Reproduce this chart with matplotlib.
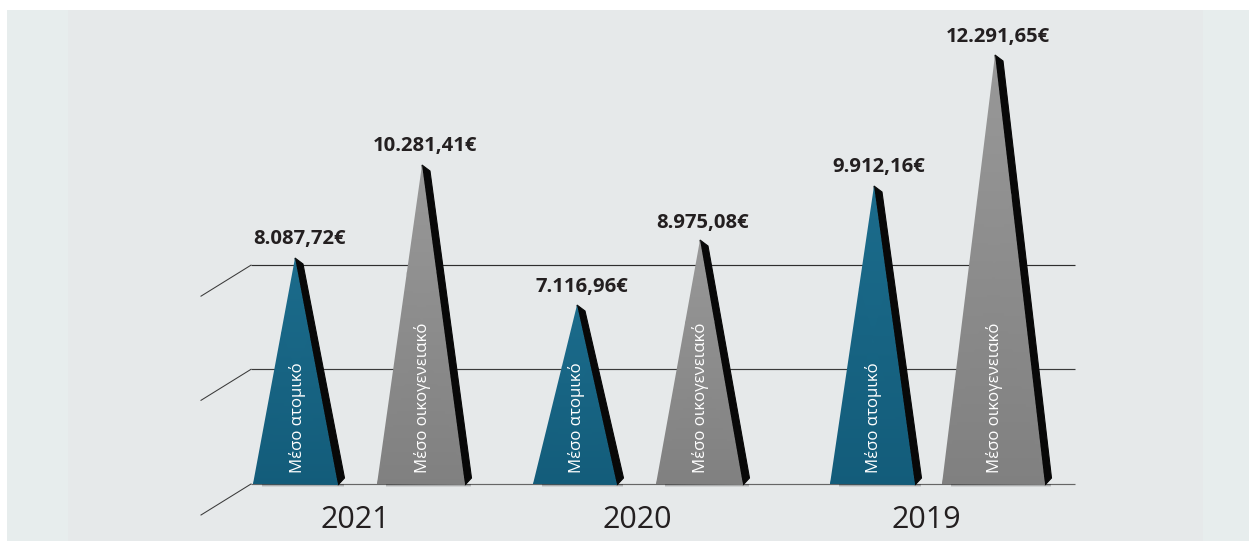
import numpy as np
import matplotlib
matplotlib.use("Agg")
import matplotlib.pyplot as plt
from matplotlib.colors import LinearSegmentedColormap
from matplotlib.patches import Polygon, Rectangle

plt.rcParams['font.family'] = ['Open Sans', 'DejaVu Sans']

years = ["2021", "2020", "2019"]
individual = [8087.72, 7116.96, 9912.16]
family = [10281.41, 8975.08, 12291.65]
value_labels_ind = ["8.087,72€", "7.116,96€", "9.912,16€"]
value_labels_fam = ["10.281,41€", "8.975,08€", "12.291,65€"]
name_ind = "Μέσο ατομικό"
name_fam = "Μέσο οικογενειακό"

# the pyramids are not to a linear scale, so the y axis gets its own breakpoints
scale_values = [-2078, 0, 7116.96, 8087.72, 8975.08, 9912.16, 10281.41, 12291.65, 14000]
scale_heights = [-58, 0, 179, 226, 244, 298, 319, 429, 484]
grid_values = [0, 4560, 7940]

# left, right, apex of each pyramid, one entry per year
ind_x = [(253, 338, 295), (533, 617, 577), (830, 915, 874)]
fam_x = [(377, 465, 422), (656, 743, 700), (942, 1045, 995)]
year_x = [355, 637, 926]

# label placement
ind_name_x = [298, 577, 874]
fam_name_x = [423, 701, 995]
ind_gap = [9, 8, 9]
fam_gap = [9, 7, 8]

WIDTH, HEIGHT = 1249, 542
BLUE = LinearSegmentedColormap.from_list("blue", ["#135c7a", "#1b6b8b"])
GREY = LinearSegmentedColormap.from_list("grey", ["#808080", "#989898"])


def to_height(v):
    return np.interp(v, scale_values, scale_heights)


def to_value(h):
    return np.interp(h, scale_heights, scale_values)


def draw_pyramid(ax, xs, value, cmap):
    left, right, apex = xs
    # soft shadow under the base
    for i, alpha in enumerate([0.45, 0.28, 0.12]):
        ax.add_patch(Polygon([(left + 9, to_value(0 - i)), (right + 6, to_value(0 - i)),
                              (right + 6, to_value(-1 - i)), (left + 9, to_value(-1 - i))],
                             closed=True, fc="#333333", ec="none", alpha=alpha, zorder=3))
    # black side
    ax.add_patch(Polygon([(apex, value), (apex + 8, to_value(to_height(value) - 6)),
                          (right + 6.5, to_value(6)), (right, to_value(-1))],
                         closed=True, fc="#080808", ec="#080808", lw=0.8, zorder=4))
    # front face with a vertical gradient
    face = Polygon([(left, 0), (right, to_value(-1)), (apex, value)], closed=True,
                   transform=ax.transData, fc="none", ec="none")
    ax.add_patch(face)
    ys = np.array([to_value(-1), value])
    mesh = ax.pcolormesh([left, right], ys, [[0, 0], [1, 1]], shading="gouraud",
                         cmap=cmap, vmin=0, vmax=1, zorder=5)
    mesh.set_clip_path(face)


fig = plt.figure(figsize=(WIDTH / 100, HEIGHT / 100), dpi=100)
fig.patch.set_facecolor("white")

# page background and the guide lines, in pixel coordinates
bg = fig.add_axes([0, 0, 1, 1], zorder=0)
bg.set_xlim(0, WIDTH)
bg.set_ylim(HEIGHT, 0)
bg.axis("off")
bg.add_patch(Rectangle((7, 10), WIDTH - 7, 531, fc="#e7eded", ec="none"))
bg.add_patch(Rectangle((68, 10), 1135, 531, fc="#e6e9ea", ec="none"))

ax = fig.add_axes([0, 0, 1, 1], zorder=1)
ax.patch.set_alpha(0)
ax.set_yscale("function", functions=(to_height, to_value))
ax.set_xlim(0, WIDTH)
ax.set_ylim(to_value(-58), to_value(484))
ax.axis("off")

for g, colour in zip(grid_values, ["#666666", "#3a3a3a", "#2e2e2e"]):
    ax.plot([251, 1075], [g, g], color=colour, lw=0.85, zorder=2, solid_capstyle="butt")
    ax.plot([201, 251], [to_value(to_height(g) - 31), g], color="#3a3a3a", lw=0.75, zorder=2)

for i, year in enumerate(years):
    draw_pyramid(ax, ind_x[i], individual[i], BLUE)
    draw_pyramid(ax, fam_x[i], family[i], GREY)

    ax.text(ind_x[i][2] + 5, to_value(to_height(individual[i]) + ind_gap[i]), value_labels_ind[i],
            ha="center", va="bottom", fontsize=14.6, fontweight="bold", color="#231f20", zorder=7)
    ax.text(fam_x[i][2] + 3, to_value(to_height(family[i]) + fam_gap[i]), value_labels_fam[i],
            ha="center", va="bottom", fontsize=14.6, fontweight="bold", color="#231f20", zorder=7)

    ax.text(ind_name_x[i], to_value(11), name_ind, rotation=90, ha="center", va="bottom",
            fontsize=12.1, color="white", zorder=7)
    ax.text(fam_name_x[i], to_value(11), name_fam, rotation=90, ha="center", va="bottom",
            fontsize=12.1, color="white", zorder=7)

    ax.text(year_x[i], to_value(-36), year, ha="center", va="center",
            fontsize=22, color="#231f20", zorder=7)

fig.savefig("out.png", dpi=100)
